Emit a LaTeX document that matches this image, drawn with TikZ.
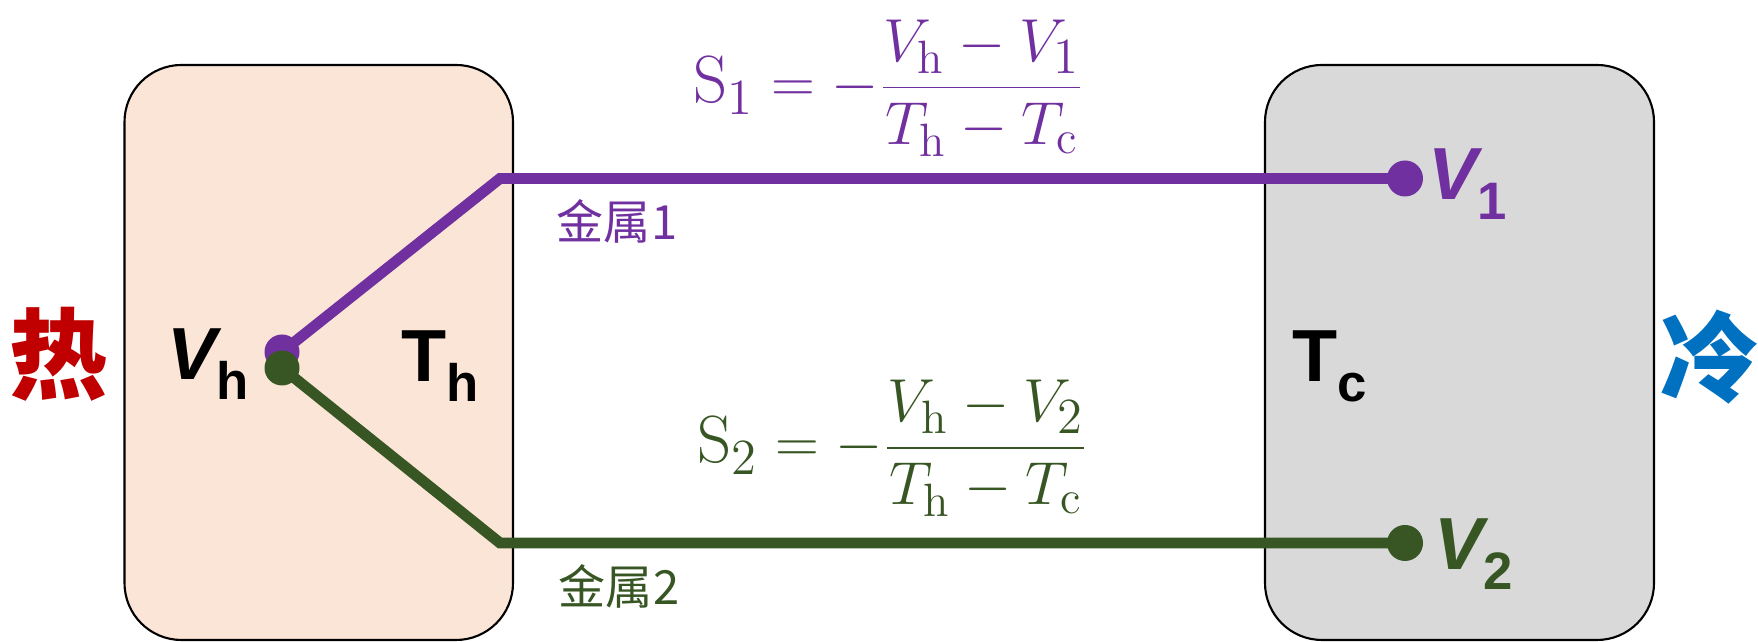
\documentclass[tikz,border=0pt]{standalone}
\usepackage{fontspec}
\newfontfamily\labelfont{Liberation Sans}
\newfontfamily\cjkfont{Noto Sans CJK SC}
\definecolor{thermoPurple}{HTML}{7030A0}
\definecolor{thermoGreen}{HTML}{375623}
\definecolor{thermoHot}{HTML}{FBE5D6}
\definecolor{thermoCold}{HTML}{D9D9D9}
\definecolor{thermoRed}{HTML}{C00000}
\definecolor{thermoBlue}{HTML}{0070C0}
\usetikzlibrary{positioning}
\newcommand{\sublab}[2]{#1\raisebox{-5.5pt}{\fontsize{15}{15}\selectfont\upshape #2}}

\begin{document}
\begin{tikzpicture}[
		reservoir/.style={draw=black, line width=0.6pt, rounded corners=0.57cm},
		wire/.style={line width=3.1pt, line join=miter},
		tag/.style={font=\labelfont\fontsize{21}{21}\selectfont\bfseries, inner sep=0pt, anchor=base},
		metal/.style={font=\cjkfont\fontsize{13.4}{14}\selectfont, inner sep=0pt},
		side/.style={font=\cjkfont\bfseries\fontsize{28}{28}\selectfont, inner sep=0pt},
		seebeck/.style={font=\fontsize{19}{22}\selectfont, inner sep=0pt, anchor=base}
	]
		\useasboundingbox (0,0) rectangle (17.58,6.42);
		\draw[reservoir, fill=thermoHot] (1.245,0.02) rectangle (5.13,5.77);
		\draw[reservoir, fill=thermoCold] (12.65,0.02) rectangle (16.54,5.77);
		\coordinate (hot1) at (2.82,2.90);
		\coordinate (bend1) at (5.00,4.635);
		\coordinate (cold1) at (14.05,4.635);
		\coordinate (hot2) at (2.82,2.74);
		\coordinate (bend2) at (5.00,0.99);
		\coordinate (cold2) at (14.05,0.99);
		\draw[wire, thermoPurple] (hot1) -- (bend1) -- (cold1);
		\fill[thermoPurple] (hot1) circle (0.175) (cold1) circle (0.18);
		\draw[wire, thermoGreen] (hot2) -- (bend2) -- (cold2);
		\fill[thermoGreen] (hot2) circle (0.175) (cold2) circle (0.18);
		\node[side, text=thermoRed] (hot) at (0.59,2.88) {热};
		\node[side, text=thermoBlue] (cold) at (17.10,2.85) {冷};
		\node[tag] (vh) at (2.08,2.62) {\sublab{\itshape V}{h}};
		\node[tag] (th) at (4.40,2.60) {\sublab{T}{h}};
		\node[tag] (tc) at (13.30,2.60) {\sublab{T}{c}};
		\node[tag, text=thermoPurple] (v1) at (14.68,4.42) {\sublab{\itshape V}{1}};
		\node[tag, text=thermoGreen] (v2) at (14.74,0.72) {\sublab{\itshape V}{2}};
		\node[metal, text=thermoPurple] (m1) at (6.17,4.21) {金属1};
		\node[metal, text=thermoGreen] (m2) at (6.19,0.56) {金属2};
		\node[seebeck, text=thermoPurple] (s1) at (8.89,5.39) {$\displaystyle \mathrm{S}_1 = -\frac{V_\mathrm{h}-V_1}{T_\mathrm{h}-T_\mathrm{c}}$};
		\node[seebeck, text=thermoGreen] (s2) at (8.93,1.79) {$\displaystyle \mathrm{S}_2 = -\frac{V_\mathrm{h}-V_2}{T_\mathrm{h}-T_\mathrm{c}}$};
	\end{tikzpicture}
\end{document}
